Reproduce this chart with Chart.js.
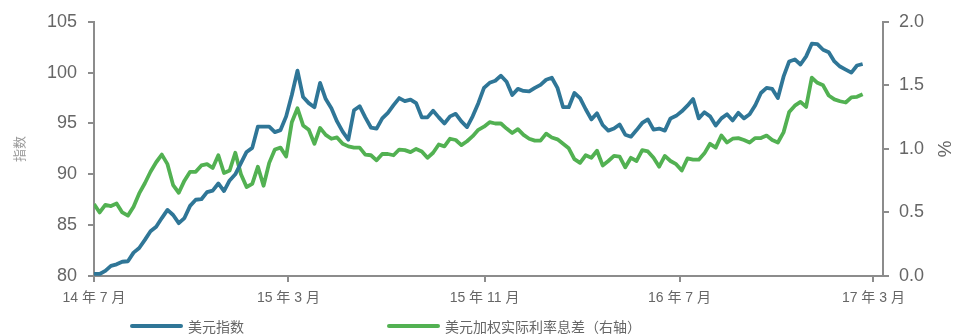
<!DOCTYPE html>
<html>
<head>
<meta charset="utf-8">
<script src="https://cdn.jsdelivr.net/npm/chart.js@4.4.1/dist/chart.umd.min.js"></script>
<style>
  html, body { margin: 0; padding: 0; background: #fff; }
  #wrap { position: relative; width: 953px; height: 336px; }
  #legend { position: absolute; left: 130px; top: 317px; display: flex; font-family: "Liberation Sans", "Noto Sans CJK SC", sans-serif; font-size: 14px; color: #666; }
  .item { display: flex; align-items: center; height: 18px; }
  .item .swatch { width: 53px; height: 4px; border-radius: 2px; margin-right: 5px; }
</style>
</head>
<body>
<div id="wrap">
  <canvas id="chart" width="953" height="336"></canvas>
  <div id="legend"></div>
</div>
<script>
// weekly series, Jul 2014 - Feb 2017
const dollarIndex = [
  80.2, 80.2, 80.5, 81.0, 81.15, 81.4, 81.45, 82.3, 82.75, 83.55,
  84.4, 84.85, 85.7, 86.5, 86.0, 85.2, 85.7, 86.9, 87.5, 87.55,
  88.25, 88.4, 89.1, 88.35, 89.4, 90.0, 91.1, 92.2, 92.6, 94.7,
  94.7, 94.7, 94.15, 94.35, 95.7, 97.8, 100.2, 97.6, 97.0, 96.6,
  99.0, 97.4, 96.5, 95.2, 94.2, 93.4, 96.3, 96.7, 95.6, 94.6,
  94.5, 95.5, 96.05, 96.8, 97.5, 97.2, 97.35, 97.0, 95.6, 95.6,
  96.25, 95.6, 95.0, 95.7, 95.95, 95.2, 94.65, 95.7, 97.0, 98.5,
  99.0, 99.2, 99.7, 99.1, 97.8, 98.4, 98.2, 98.15, 98.5, 98.8,
  99.3, 99.5, 98.5, 96.6, 96.6, 98.0, 97.5, 96.4, 95.4, 96.0,
  94.85, 94.3, 94.5, 94.9, 93.9, 93.7, 94.35, 95.05, 95.4, 94.4,
  94.5, 94.3, 95.5, 95.75, 96.2, 96.75, 97.4, 95.5, 96.1, 95.7,
  94.8, 95.5, 95.9, 95.3, 96.05, 95.5, 95.9, 96.8, 98.0, 98.5,
  98.4, 97.5, 99.6, 101.1, 101.3, 100.8, 101.6, 102.85, 102.8, 102.25,
  102.0, 101.1, 100.6, 100.3, 100.0, 100.7, 100.85
];
const rateSpread = [
  0.565, 0.50, 0.56, 0.55, 0.57, 0.50, 0.475, 0.545, 0.65, 0.73,
  0.82, 0.895, 0.955, 0.88, 0.715, 0.655, 0.75, 0.82, 0.82, 0.87,
  0.88, 0.85, 0.95, 0.81, 0.83, 0.97, 0.80, 0.70, 0.725, 0.86,
  0.71, 0.89, 0.995, 1.01, 0.94, 1.21, 1.32, 1.185, 1.15, 1.04,
  1.165, 1.11, 1.08, 1.09, 1.04, 1.02, 1.01, 1.01, 0.955, 0.95,
  0.91, 0.96, 0.96, 0.95, 0.995, 0.99, 0.975, 1.00, 0.98, 0.93,
  0.97, 1.035, 1.02, 1.08, 1.07, 1.03, 1.06, 1.10, 1.15, 1.175,
  1.21, 1.20, 1.20, 1.16, 1.125, 1.155, 1.11, 1.08, 1.065, 1.065,
  1.12, 1.09, 1.075, 1.04, 1.005, 0.92, 0.89, 0.95, 0.93, 0.985,
  0.87, 0.905, 0.945, 0.94, 0.855, 0.93, 0.905, 0.99, 0.98, 0.93,
  0.86, 0.945, 0.905, 0.88, 0.83, 0.925, 0.915, 0.915, 0.965, 1.04,
  1.01, 1.105, 1.05, 1.08, 1.085, 1.07, 1.05, 1.085, 1.085, 1.105,
  1.07, 1.05, 1.13, 1.29, 1.34, 1.37, 1.33, 1.56, 1.52, 1.50,
  1.42, 1.39, 1.375, 1.365, 1.405, 1.41, 1.43
];
const seriesNames = ['美元指数', '美元加权实际利率息差（右轴）'];
const seriesColors = ['#2f7697', '#52b152'];

// x axis runs in weeks from the first observation
const tickWeeks = [0, 34.4, 69.1, 103.6, 137.9];
const tickLabels = ['14 年 7 月', '15 年 3 月', '15 年 11 月', '16 年 7 月', '17 年 3 月'];

const FONT = '"Liberation Sans", "Noto Sans CJK SC", sans-serif';
const AXIS = '#8c8c8c';
const TEXT = '#666';

const toPoints = arr => arr.map((v, i) => ({ x: i, y: v }));

const axisGrid = { drawOnChartArea: false, drawTicks: true, tickLength: 6, color: AXIS, lineWidth: 2 };
const axisBorder = { color: AXIS, width: 2 };

const chart = new Chart(document.getElementById('chart'), {
  type: 'line',
  data: {
    datasets: [
      {
        label: seriesNames[0],
        data: toPoints(dollarIndex),
        borderColor: seriesColors[0],
        backgroundColor: seriesColors[0],
        borderWidth: 3.8,
        pointRadius: 0,
        borderJoinStyle: 'round',
        yAxisID: 'y'
      },
      {
        label: seriesNames[1],
        data: toPoints(rateSpread),
        borderColor: seriesColors[1],
        backgroundColor: seriesColors[1],
        borderWidth: 3.8,
        pointRadius: 0,
        borderJoinStyle: 'round',
        yAxisID: 'y1'
      }
    ]
  },
  options: {
    responsive: false,
    animation: false,
    devicePixelRatio: 1,
    layout: { padding: { top: 19 } },
    plugins: { legend: { display: false }, tooltip: { enabled: false } },
    scales: {
      x: {
        type: 'linear',
        min: 0,
        max: 139.6,
        afterBuildTicks: s => { s.ticks = tickWeeks.map(v => ({ value: v })); },
        afterFit: s => { s.height = 60; },
        ticks: {
          autoSkip: false,
          maxRotation: 0,
          padding: 8,
          color: TEXT,
          font: { family: FONT, size: 14 },
          callback: (v, i) => tickLabels[i]
        },
        grid: axisGrid,
        border: axisBorder
      },
      y: {
        position: 'left',
        min: 80,
        max: 105,
        afterFit: s => { s.width = 94; },
        ticks: { stepSize: 5, padding: 11, color: TEXT, font: { family: FONT, size: 18 } },
        title: {
          display: true,
          text: '指数',
          color: '#999',
          font: { family: FONT, size: 13, lineHeight: 1.2 },
          padding: { top: 13, bottom: 0 }
        },
        grid: axisGrid,
        border: axisBorder
      },
      y1: {
        position: 'right',
        min: 0,
        max: 2,
        afterFit: s => { s.width = 70; },
        ticks: {
          stepSize: 0.5,
          padding: 10,
          color: TEXT,
          font: { family: FONT, size: 18 },
          callback: v => v.toFixed(1)
        },
        title: {
          display: true,
          text: '%',
          color: TEXT,
          font: { family: FONT, size: 19, lineHeight: 1 },
          padding: { top: 0, bottom: 0 }
        },
        grid: axisGrid,
        border: axisBorder
      }
    }
  }
});

// legend drawn as html from the datasets
const legend = document.getElementById('legend');
chart.data.datasets.forEach((ds, i) => {
  const item = document.createElement('div');
  item.className = 'item';
  if (i === 0) item.style.width = '257px';
  const sw = document.createElement('span');
  sw.className = 'swatch';
  sw.style.background = ds.borderColor;
  const txt = document.createElement('span');
  txt.textContent = ds.label;
  item.appendChild(sw);
  item.appendChild(txt);
  legend.appendChild(item);
});
</script>
</body>
</html>
